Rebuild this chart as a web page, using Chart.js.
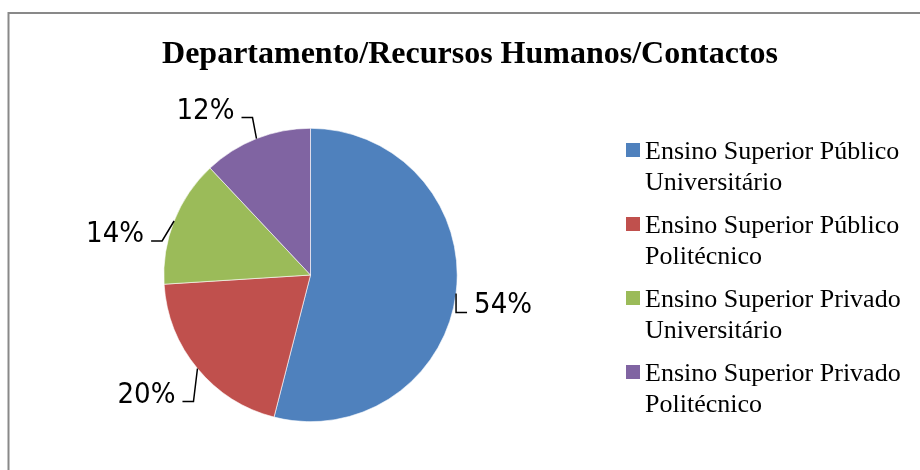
<!DOCTYPE html>
<html>
<head>
<meta charset="utf-8">
<script src="https://cdn.jsdelivr.net/npm/chart.js@4/dist/chart.umd.min.js"></script>
<style>
html,body{margin:0;padding:0;background:#fff;}
#wrap{position:absolute;left:0;top:0;width:920px;height:470px;}
</style>
</head>
<body>
<div id="wrap"><canvas id="c" width="920" height="470"></canvas></div>
<script>
const title = "Departamento/Recursos Humanos/Contactos";
const categories = [
  "Ensino Superior Público Universitário",
  "Ensino Superior Público Politécnico",
  "Ensino Superior Privado Universitário",
  "Ensino Superior Privado Politécnico"
];
const values = [54, 20, 14, 12];
const colors = ["#4F81BD", "#C0504D", "#9BBB59", "#8064A2"];

const frame = {
  id: 'frame',
  beforeDraw(chart) {
    const ctx = chart.ctx;
    ctx.save();
    ctx.fillStyle = '#fff';
    ctx.fillRect(0, 0, chart.width, chart.height);
    ctx.strokeStyle = '#898989';
    ctx.lineWidth = 2;
    ctx.beginPath();
    ctx.moveTo(920, 13);
    ctx.lineTo(8.5, 13);
    ctx.lineTo(8.5, 470);
    ctx.stroke();
    ctx.fillStyle = '#000';
    ctx.font = 'bold 32px "Liberation Serif", "Times New Roman", serif';
    ctx.textAlign = 'center';
    ctx.textBaseline = 'alphabetic';
    ctx.fillText(title, 470, 63);
    ctx.restore();
  }
};

function wrapText(ctx, text, maxW) {
  const words = text.split(' ');
  const lines = [];
  let cur = '';
  for (const w of words) {
    const t = cur ? cur + ' ' + w : w;
    if (ctx.measureText(t).width > maxW && cur) { lines.push(cur); cur = w; }
    else cur = t;
  }
  if (cur) lines.push(cur);
  return lines;
}

const legendPlugin = {
  id: 'customLegend',
  afterDraw(chart) {
    const ctx = chart.ctx;
    const ds = chart.data.datasets[0];
    ctx.save();
    ctx.font = '26px "Liberation Serif", "Times New Roman", serif';
    ctx.textAlign = 'left';
    ctx.textBaseline = 'alphabetic';
    let y = 159;
    chart.data.labels.forEach((lab, i) => {
      ctx.fillStyle = ds.backgroundColor[i];
      ctx.fillRect(626, y - 16, 14, 14);
      ctx.fillStyle = '#000';
      const lines = wrapText(ctx, lab, 270);
      lines.forEach((ln, k) => ctx.fillText(ln, 645, y + k * 31));
      y += 74;
    });
    ctx.restore();
  }
};

const dataLabels = {
  id: 'pctLabels',
  afterDatasetsDraw(chart, args, opts) {
    const ctx = chart.ctx;
    const meta = chart.getDatasetMeta(0);
    const data = chart.data.datasets[0].data;
    const total = data.reduce((a, b) => a + b, 0);
    ctx.save();
    ctx.font = '29px "DejaVu Sans Condensed", "DejaVu Sans", Verdana, sans-serif';
    ctx.fillStyle = '#000';
    ctx.strokeStyle = '#000';
    ctx.lineWidth = 1.5;
    ctx.textBaseline = 'alphabetic';
    meta.data.forEach((arc, i) => {
      const p = arc.getProps(['x', 'y', 'startAngle', 'endAngle', 'outerRadius'], true);
      const mid = (p.startAngle + p.endAngle) / 2;
      const ex = p.x + p.outerRadius * Math.cos(mid);
      const ey = p.y + p.outerRadius * Math.sin(mid);
      const off = opts.offsets[i];
      const cx = ex + off[0], cy = ey + off[1];
      const dir = Math.cos(mid) >= 0 ? 1 : -1;
      const hx = cx + dir * 11;
      ctx.beginPath();
      ctx.moveTo(ex, ey);
      ctx.lineTo(cx, cy);
      ctx.lineTo(hx, cy);
      ctx.stroke();
      ctx.textAlign = dir > 0 ? 'left' : 'right';
      const pct = Math.round(data[i] / total * 100) + '%';
      ctx.fillText(pct, hx + dir * 7, cy + 1);
    });
    ctx.restore();
  }
};

new Chart(document.getElementById('c'), {
  type: 'pie',
  data: {
    labels: categories,
    datasets: [{
      data: values,
      backgroundColor: colors,
      borderColor: '#ffffff',
      borderWidth: 0.6
    }]
  },
  options: {
    responsive: false,
    animation: false,
    layout: { padding: { left: 163.5, top: 128, right: 462.5, bottom: 48 } },
    plugins: {
      legend: { display: false },
      title: { display: false },
      tooltip: { enabled: false },
      pctLabels: { offsets: [[0, 19], [-4, 33], [-12, 20], [-4, -21]] }
    }
  },
  plugins: [frame, dataLabels, legendPlugin]
});
</script>
</body>
</html>
